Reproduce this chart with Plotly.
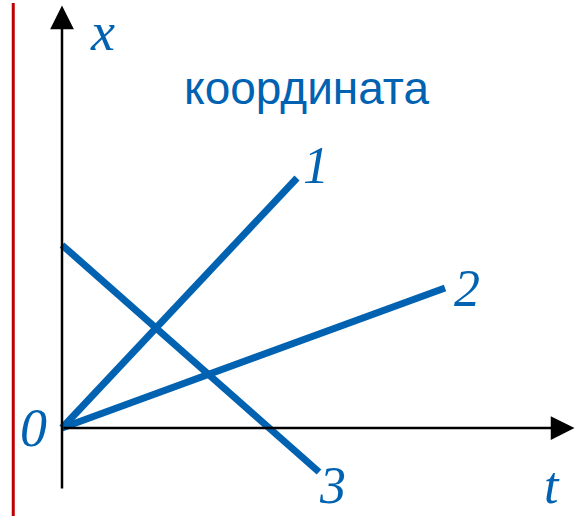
import plotly.graph_objects as go

# data (1 unit = 25 px, origin at the crossing of the axes)
line_names = ["1", "2", "3"]
t_start = [0, 0, 0]
t_end = [9.4, 15.32, 10.28]
x_start = [0, 0, 7.32]
x_end = [10, 5.6, -1.76]

# label places for the line numbers
label_t = [10.16, 16.2, 10.8]
label_x = [10.5, 5.6, -3.52]
label_anchor = ["middle", "middle", "bottom"]

blue = "#0062b1"
serif_it = "Liberation Serif"

fig = go.Figure()

for i in range(len(line_names)):
    fig.add_trace(go.Scatter(
        x=[t_start[i], t_end[i]],
        y=[x_start[i], x_end[i]],
        mode="lines",
        line=dict(color=blue, width=7),
        name=line_names[i],
        showlegend=False,
        hoverinfo="skip",
    ))

# axes drawn as arrows
fig.add_annotation(x=20.5, y=0, ax=0, ay=0, xref="x", yref="y", axref="x", ayref="y",
                   text="", showarrow=True, arrowhead=2, arrowsize=1.9,
                   arrowwidth=2.5, arrowcolor="black")
fig.add_annotation(x=0, y=16.9, ax=0, ay=-2.48, xref="x", yref="y", axref="x", ayref="y",
                   text="", showarrow=True, arrowhead=2, arrowsize=1.9,
                   arrowwidth=2.5, arrowcolor="black")

# red margin line
fig.add_shape(type="line", x0=-1.95, x1=-1.95, y0=-3.6, y1=17.0,
              line=dict(color="#c00000", width=3))

for i in range(len(line_names)):
    fig.add_annotation(x=label_t[i], y=label_x[i], yanchor=label_anchor[i],
                       text="<i>" + line_names[i] + "</i>",
                       showarrow=False, font=dict(family=serif_it, size=52, color=blue))

fig.add_annotation(x=1.6, y=17.12, yanchor="top", text="<i>x</i>", showarrow=False,
                   font=dict(family=serif_it, size=54, color=blue))
fig.add_annotation(x=19.6, y=-3.52, yanchor="bottom", text="<i>t</i>", showarrow=False,
                   font=dict(family=serif_it, size=52, color=blue))
fig.add_annotation(x=-1.15, y=0.0, text="<i>0</i>", showarrow=False,
                   font=dict(family=serif_it, size=54, color=blue))
fig.add_annotation(x=9.76, y=13.6, text="координата", showarrow=False,
                   font=dict(family="Liberation Sans", size=46, color=blue))

fig.update_layout(
    width=576,
    height=516,
    margin=dict(l=0, r=0, t=0, b=0),
    plot_bgcolor="white",
    paper_bgcolor="white",
    xaxis=dict(range=[-2.48, 20.56], visible=False, fixedrange=True),
    yaxis=dict(range=[-3.52, 17.12], visible=False, fixedrange=True),
)

# page body has an 8px default margin; drop it so the figure fills the window
fig.write_html("out.html", config={"displayModeBar": False},
               post_script="document.body.style.margin='0';")
